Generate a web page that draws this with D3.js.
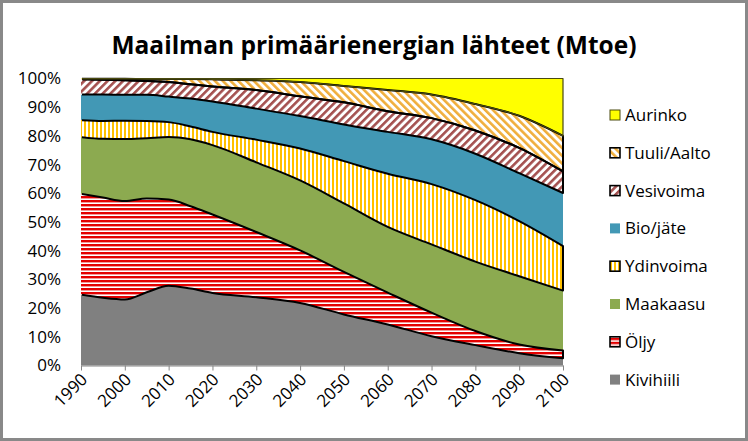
<!DOCTYPE html>
<html>
<head>
<meta charset="utf-8">
<script src="https://cdn.jsdelivr.net/npm/d3@7"></script>
<style>
  body { margin: 0; background: #fff; }
  svg { display: block; }
  text { font-family: "Open Sans", sans-serif; fill: #000; }
</style>
</head>
<body>
<div id="chart"></div>
<script>
// Data (share of total, %)
const years      = [1990, 1995, 2000, 2005, 2010, 2015, 2020, 2030, 2040, 2050, 2060, 2070, 2080, 2090, 2100];
const kivihiili  = [24.7, 23.6, 23.0, 25.5, 27.8, 26.8, 25.3, 23.8, 21.8, 17.8, 14.3, 10.2,  7.1,  4.3,  2.5];
const oljy       = [35.1, 34.9, 34.3, 32.7, 30.0, 28.7, 27.3, 22.7, 18.3, 14.8, 11.1,  8.2,  4.9,  3.0,  2.7];
const maakaasu   = [19.8, 20.5, 21.6, 21.0, 21.8, 23.3, 24.2, 24.3, 24.4, 23.9, 22.9, 23.8, 24.2, 23.8, 20.9];
const ydinvoima  = [ 5.9,  6.2,  6.4,  6.0,  5.2,  4.5,  4.6,  7.9, 11.1, 14.7, 18.5, 21.0, 21.4, 19.2, 15.5];
const biojate    = [ 8.9,  9.2,  9.0,  9.1,  8.9,  9.7, 10.6, 10.8, 11.3, 12.8, 14.6, 15.6, 16.2, 16.7, 18.5];
const vesivoima  = [ 5.3,  5.2,  5.1,  4.8,  5.1,  5.0,  5.2,  6.5,  6.9,  7.7,  7.2,  7.4,  8.1,  8.8,  7.5];
const tuuli      = [ 0.2,  0.3,  0.5,  0.7,  1.0,  1.8,  2.5,  3.4,  5.0,  5.7,  7.4,  8.2,  9.2, 11.2, 12.4];
const aurinko    = [ 0.1,  0.1,  0.1,  0.2,  0.2,  0.2,  0.3,  0.6,  1.2,  2.6,  4.0,  5.6,  8.9, 13.0, 20.0];

const seriesNames = ['Kivihiili', 'Öljy', 'Maakaasu', 'Ydinvoima', 'Bio/jäte', 'Vesivoima', 'Tuuli/Aalto', 'Aurinko'];
const seriesValues = [kivihiili, oljy, maakaasu, ydinvoima, biojate, vesivoima, tuuli, aurinko];

const xTickLabels = [1990, 2000, 2010, 2020, 2030, 2040, 2050, 2060, 2070, 2080, 2090, 2100];
const yTickLabels = [0, 0.1, 0.2, 0.3, 0.4, 0.5, 0.6, 0.7, 0.8, 0.9, 1];

const W = 748, H = 441;
const margin = { top: 78.5, right: 185, bottom: 75.5, left: 81 };

// build rows for d3.stack
const rows = years.map((yr, i) => {
  const r = { year: yr };
  seriesNames.forEach((n, k) => { r[n] = seriesValues[k][i]; });
  return r;
});

const stack = d3.stack().keys(seriesNames).offset(d3.stackOffsetExpand);
const layers = stack(rows);

const x = d3.scaleLinear().domain([1990, 2100]).range([margin.left, W - margin.right]);
const y = d3.scaleLinear().domain([0, 1]).range([H - margin.bottom, margin.top]);

const svg = d3.select('#chart').append('svg')
  .attr('width', W)
  .attr('height', H);

// fills / patterns
const defs = svg.append('defs');

function stripes(id, size, band, color, angle) {
  const p = defs.append('pattern')
    .attr('id', id)
    .attr('patternUnits', 'userSpaceOnUse')
    .attr('width', size)
    .attr('height', size)
    .attr('patternTransform', `rotate(${angle})`);
  p.append('rect').attr('width', size).attr('height', size).attr('fill', '#fff');
  p.append('rect').attr('width', band).attr('height', size).attr('fill', color);
}
stripes('p-oljy', 4, 2.4, '#e40000', 90);
stripes('p-ydin', 4, 2, '#ffc000', 0);
stripes('p-vesi', 5.5, 2.6, '#a4504f', 45);
stripes('p-tuuli', 5.5, 2.6, '#f0ae3c', -45);

// keep the outlines off the left edge of the plot
defs.append('clipPath').attr('id', 'clip-edge')
  .append('rect')
  .attr('x', margin.left + 1)
  .attr('y', 0)
  .attr('width', W)
  .attr('height', H);

const style = {
  'Kivihiili':   { fill: '#808080', stroke: 'none' },
  'Öljy':        { fill: 'url(#p-oljy)', stroke: '#000' },
  'Maakaasu':    { fill: '#8caa50', stroke: 'none' },
  'Ydinvoima':   { fill: 'url(#p-ydin)', stroke: '#000' },
  'Bio/jäte':    { fill: '#4298b5', stroke: 'none' },
  'Vesivoima':   { fill: 'url(#p-vesi)', stroke: '#000' },
  'Tuuli/Aalto': { fill: 'url(#p-tuuli)', stroke: '#000' },
  'Aurinko':     { fill: '#ffff00', stroke: '#4a4a10' }
};

// chart border
svg.append('rect')
  .attr('x', 1.5).attr('y', 1.5)
  .attr('width', W - 3).attr('height', H - 3)
  .attr('fill', '#fff')
  .attr('stroke', '#898989')
  .attr('stroke-width', 3);

// title
svg.append('text')
  .attr('x', W / 2)
  .attr('y', 54)
  .attr('text-anchor', 'middle')
  .style('font-size', '24.5px')
  .style('font-weight', 'bold')
  .text('Maailman primäärienergian lähteet (Mtoe)');

const area = d3.area()
  .x(d => x(d.data.year))
  .y0(d => y(d[0]))
  .y1(d => y(d[1]))
  .curve(d3.curveMonotoneX);

const g = svg.append('g');

g.selectAll('path.fill')
  .data(layers)
  .enter()
  .append('path')
  .attr('class', 'fill')
  .attr('d', area)
  .attr('fill', d => style[d.key].fill);

// outlines on top
g.append('g')
  .attr('clip-path', 'url(#clip-edge)')
  .selectAll('path.edge')
  .data(layers.filter(d => style[d.key].stroke !== 'none'))
  .enter()
  .append('path')
  .attr('class', 'edge')
  .attr('d', area)
  .attr('fill', 'none')
  .attr('stroke', d => style[d.key].stroke)
  .attr('stroke-width', d => d.key === 'Aurinko' ? 1.2 : 2)
  .attr('stroke-linejoin', 'round');

// x axis
const xAxis = svg.append('g')
  .attr('transform', `translate(0, ${H - margin.bottom})`)
  .call(d3.axisBottom(x).tickValues(xTickLabels).tickFormat(d3.format('d')).tickSize(5).tickSizeOuter(0));
xAxis.select('.domain').attr('stroke', '#868686');
xAxis.selectAll('.tick line').attr('stroke', '#868686');
xAxis.selectAll('.tick text')
  .style('font-size', '17px')
  .attr('text-anchor', 'end')
  .attr('dx', 0)
  .attr('dy', 0)
  .attr('y', 0)
  .attr('transform', 'translate(7, 15) rotate(-45)');

// y axis (labels only)
const yAxis = svg.append('g')
  .attr('transform', `translate(${margin.left}, 0)`)
  .call(d3.axisLeft(y).tickValues(yTickLabels).tickFormat(d3.format('.0%')).tickSize(0).tickPadding(20));
yAxis.select('.domain').remove();
yAxis.selectAll('.tick text').style('font-size', '17px');

// legend
const legendItems = seriesNames.slice().reverse();
const legend = svg.append('g')
  .attr('transform', 'translate(610, 115)');

const li = legend.selectAll('g')
  .data(legendItems)
  .enter()
  .append('g')
  .attr('transform', (d, i) => `translate(0, ${i * 37.8})`);

li.append('rect')
  .attr('x', 0).attr('y', -5)
  .attr('width', 10).attr('height', 10)
  .attr('fill', d => style[d].fill)
  .attr('stroke', d => style[d].stroke === 'none' ? 'none' : style[d].stroke)
  .attr('stroke-width', d => d === 'Aurinko' ? 1 : 1.6);

li.append('text')
  .attr('x', 15)
  .attr('y', 0)
  .attr('dy', '0.35em')
  .style('font-size', '17px')
  .text(d => d);
</script>
</body>
</html>
